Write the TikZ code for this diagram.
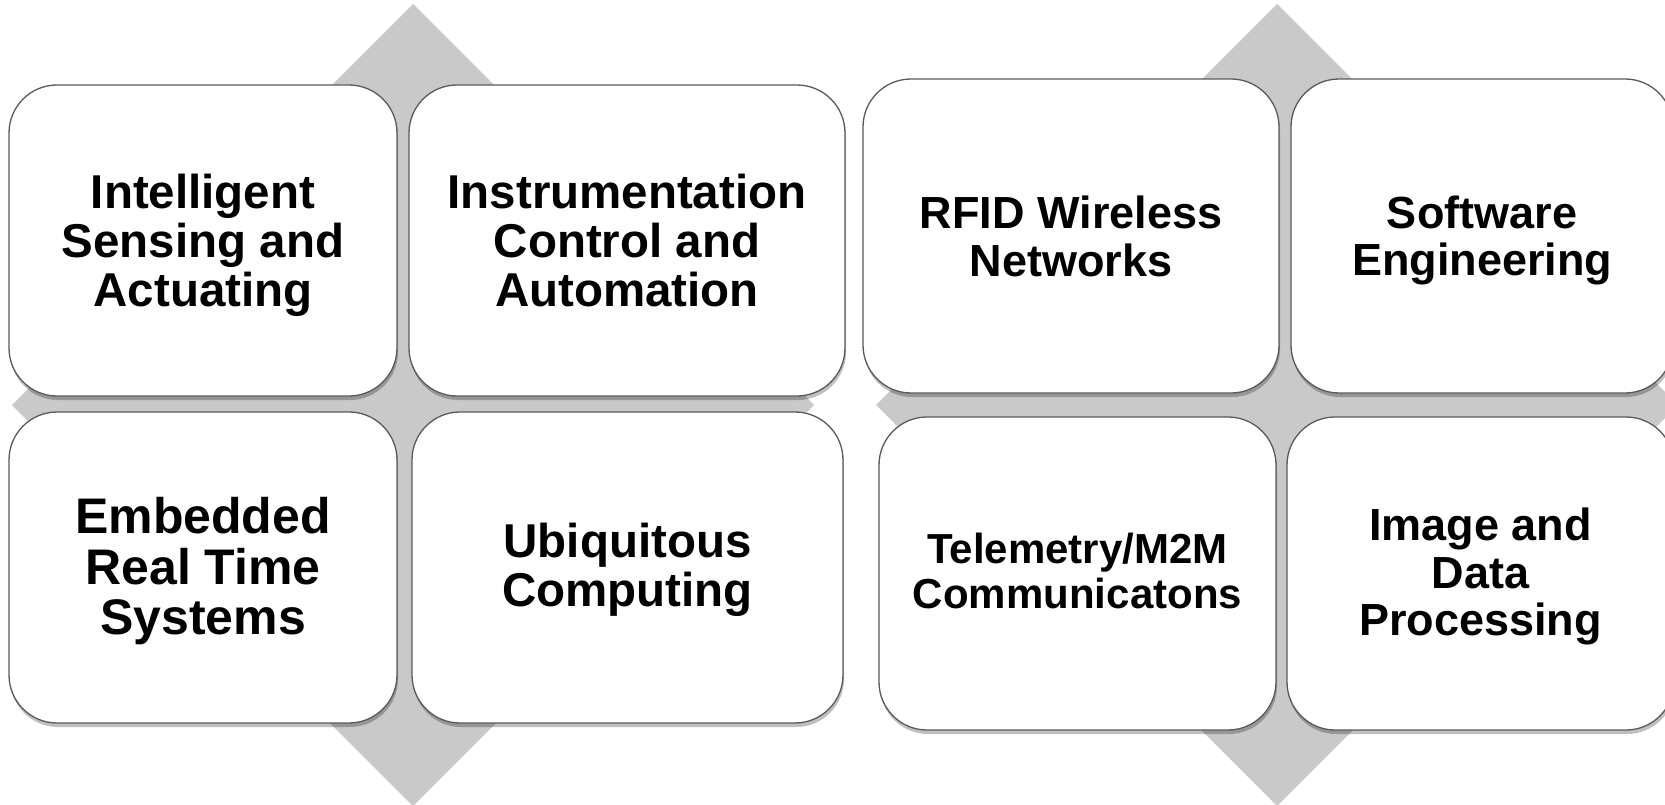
\documentclass[tikz,border=0pt]{standalone}
\usepackage{fontspec}
\setmainfont{Liberation Sans}
\usetikzlibrary{shadows}
\definecolor{diam}{HTML}{C9C9C9}
\definecolor{edge}{HTML}{5A5A5A}
\tikzset{
  card/.style={draw=edge, line width=1.3pt, fill=white, rounded corners=48pt,
    inner sep=0pt, align=center, text=black,
    drop shadow={shadow xshift=1pt, shadow yshift=-4pt, fill=black, opacity=0.25}},
  bigtxt/.style={font=\fontsize{47.5}{49}\selectfont\bfseries},
  embtxt/.style={font=\fontsize{50}{50.5}\selectfont\bfseries},
  midtxt/.style={font=\fontsize{45}{47.5}\selectfont\bfseries},
  smltxt/.style={font=\fontsize{42}{45}\selectfont\bfseries},
  diamondfill/.style={fill=diam, draw=none}
}
\newcommand{\cardat}[8]{% name, x1,y1,x2,y2, style, text, lowering
  \node[card,#6, minimum width={(#4-#2)*1pt}, minimum height={(#5-#3)*1pt}]
    (#1) at ({(#2+#4)/2},{(#3+#5)/2})
    {\raisebox{-#8pt}[\height][\depth]{\begin{tabular}{@{}c@{}}#7\end{tabular}}};}
\begin{document}
\begin{tikzpicture}[x=1pt,y=-1pt]
\useasboundingbox (0,0) rectangle (1665,805);
% background diamonds
\fill[diamondfill] (413,4) -- (814,405) -- (413,806) -- (12,405) -- cycle;
\fill[diamondfill] (1277,4) -- (1678,405) -- (1277,806) -- (876,405) -- cycle;
% left group
\cardat{isa}{9}{85}{397}{396}{bigtxt}{Intelligent\\Sensing and\\Actuating}{7}
\cardat{ica}{409}{85}{845}{396}{bigtxt}{Instrumentation\\Control and\\Automation}{7}
\cardat{erts}{9}{412}{397}{723}{embtxt}{Embedded\\Real Time\\Systems}{6}
\cardat{ubi}{412}{412}{843}{723}{bigtxt}{Ubiquitous\\Computing}{5}
% right group
\cardat{rfid}{863}{79}{1279}{393}{midtxt}{RFID Wireless\\Networks}{7}
\cardat{soft}{1291}{79}{1673}{393}{midtxt}{Software\\Engineering}{6.5}
\cardat{tele}{879}{417}{1276}{730}{smltxt}{Telemetry/M2M\\Communicatons}{3}
\cardat{img}{1287}{417}{1674}{730}{midtxt}{Image and\\Data\\Processing}{5}
\end{tikzpicture}
\end{document}
